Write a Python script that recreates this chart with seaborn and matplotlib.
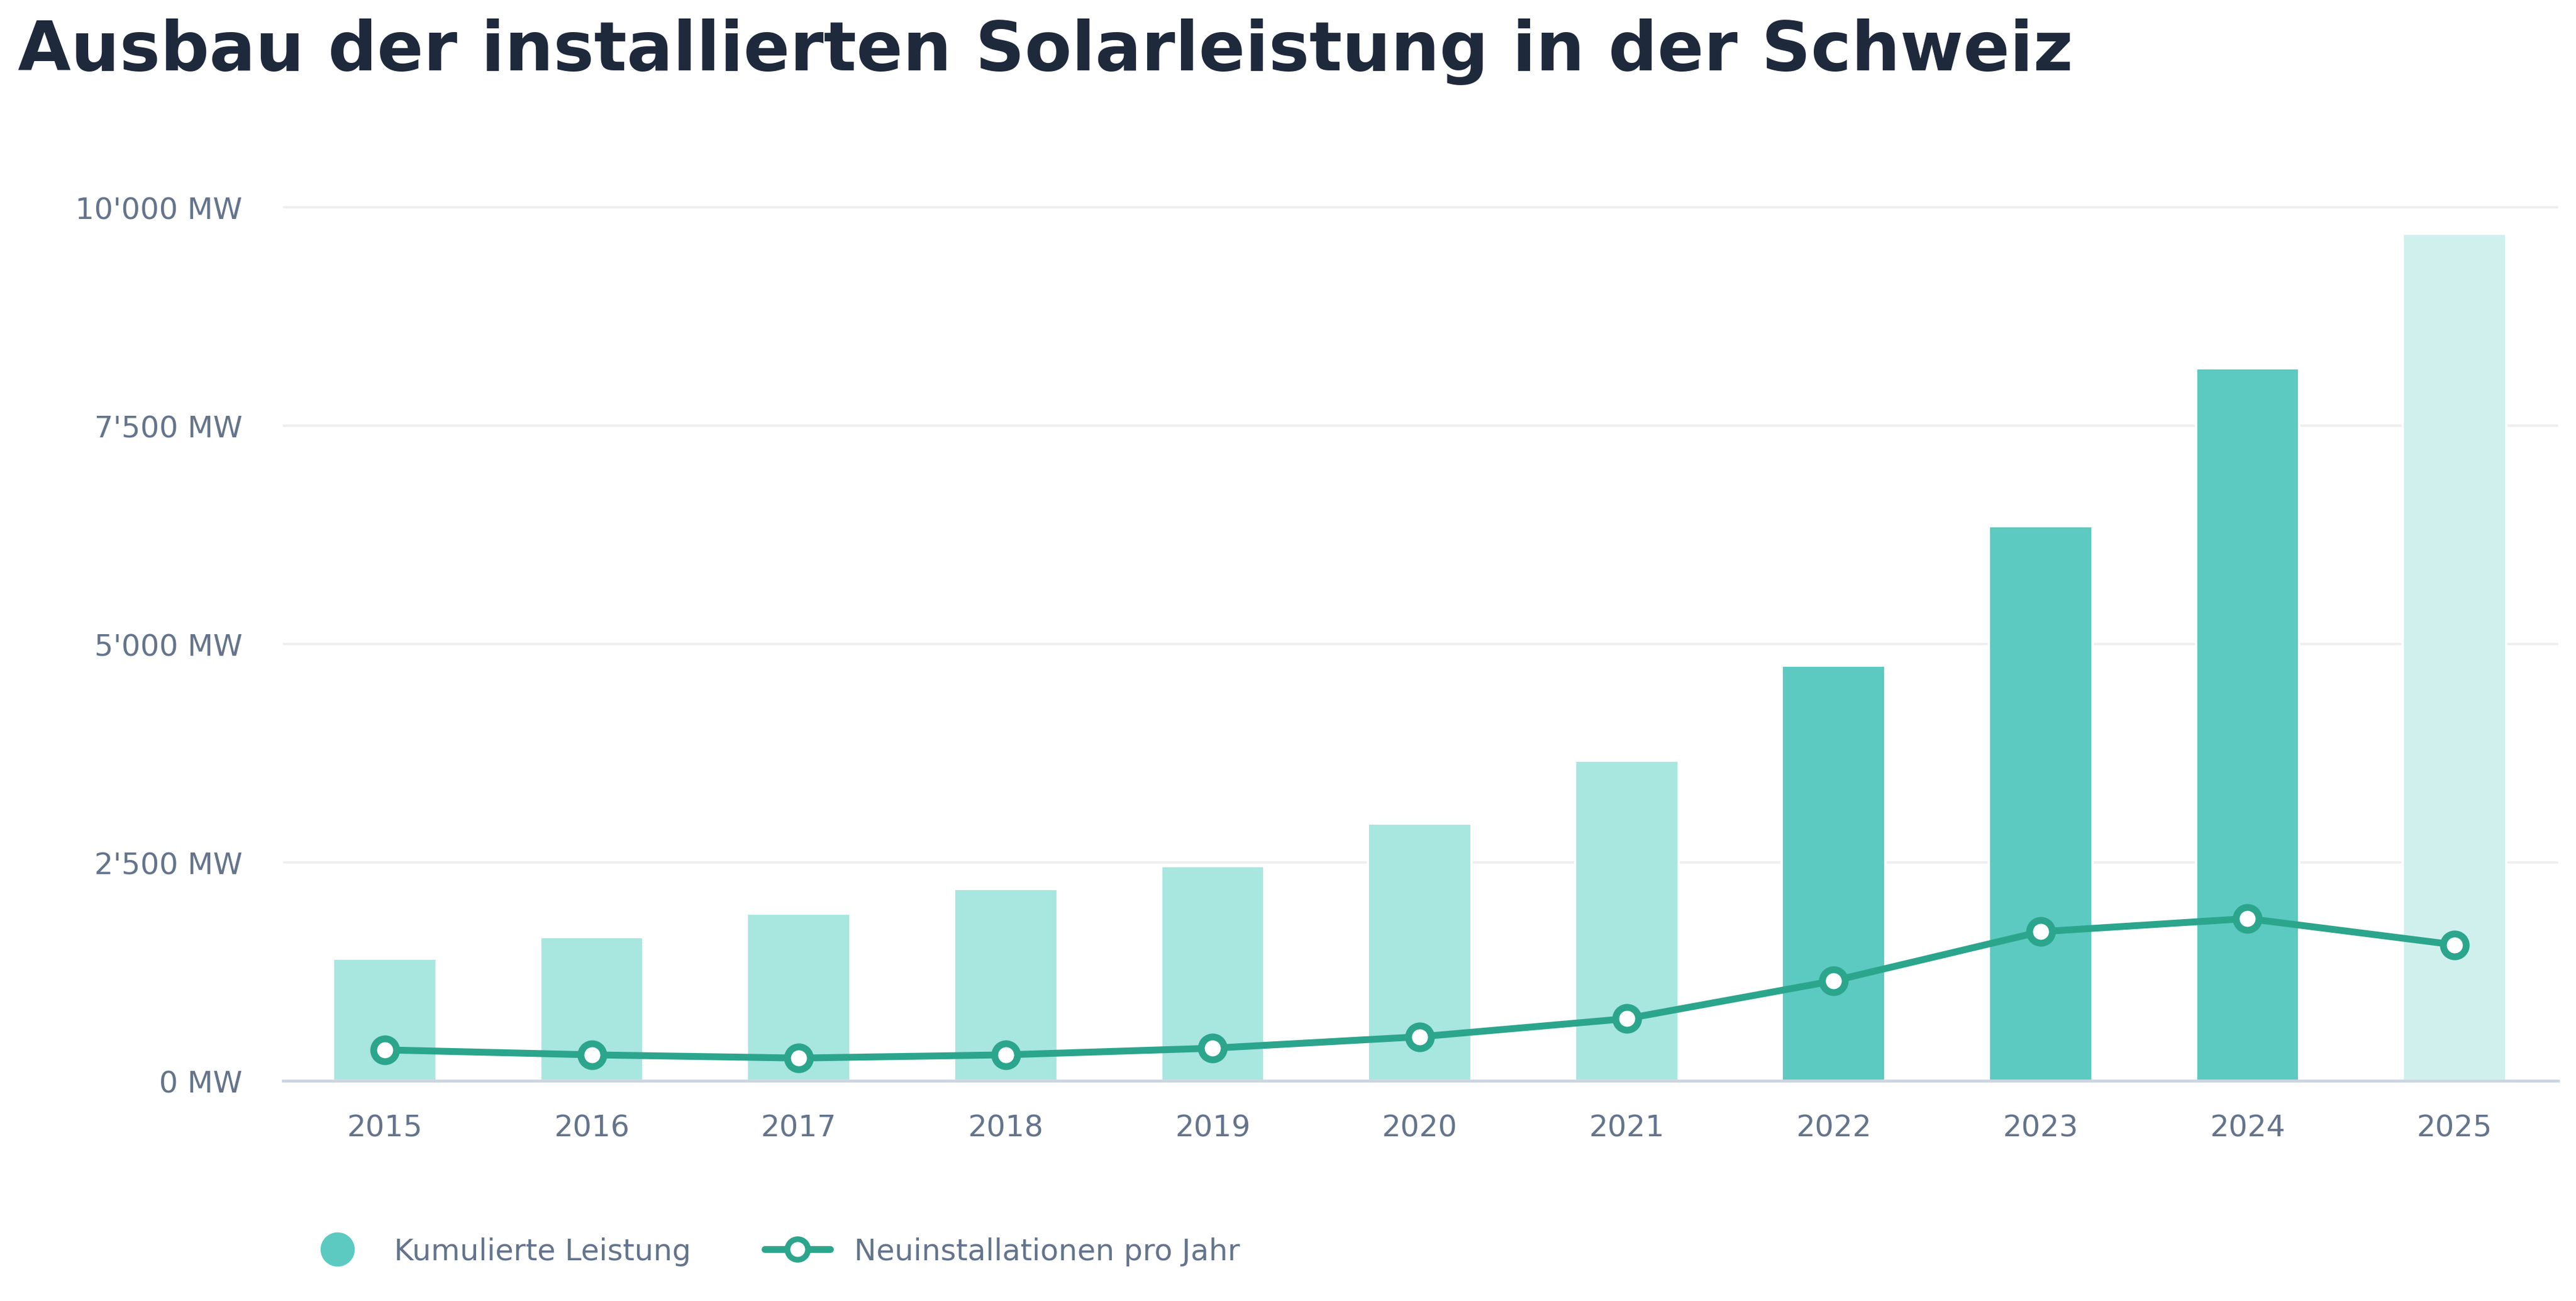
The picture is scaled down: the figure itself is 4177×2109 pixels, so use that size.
import numpy as np
import pandas as pd
import seaborn as sns
import matplotlib.pyplot as plt
from matplotlib.lines import Line2D

# Daten (MW)
years = ["2015", "2016", "2017", "2018", "2019", "2020", "2021", "2022", "2023", "2024", "2025"]
kumuliert = [1400, 1650, 1920, 2200, 2460, 2950, 3665, 4755, 6350, 8160, 9700]
neu = [357, 300, 263, 300, 376, 507, 714, 1147, 1710, 1860, 1560]
bar_colors = ["#a8e6e0"] * 7 + ["#5ccac0"] * 3 + ["#d0f0ee"]

LINE = "#2ca58d"
TICK = "#64748b"

sns.set_theme(style="white")
plt.rcParams['font.family'] = ['DejaVu Sans']

df = pd.DataFrame({"Jahr": years, "Kumuliert": kumuliert, "Neu": neu})

fig = plt.figure(figsize=(15.68, 7.92), dpi=266.4)
ax = fig.add_axes([0.110, 0.169, 0.883, 0.698])

sns.barplot(data=df, x="Jahr", y="Kumuliert", hue="Jahr", palette=bar_colors,
            legend=False, width=0.5, saturation=1, ax=ax)
sns.lineplot(x=np.arange(len(years)), y=df["Neu"], ax=ax, color=LINE, lw=3,
             marker="o", markersize=10, markerfacecolor="white",
             markeredgecolor=LINE, markeredgewidth=3, zorder=5)

ax.set_xlim(-0.49, 10.5)
ax.set_ylim(0, 10400)
ticks = [0, 2500, 5000, 7500, 10000]
ax.set_yticks(ticks)
ax.set_yticklabels([f"{v:,.0f}".replace(",", "'") + " MW" for v in ticks])
ax.yaxis.grid(True, color="#eeeeee", lw=1)
ax.set_axisbelow(True)
for s in ["top", "right", "left"]:
    ax.spines[s].set_visible(False)
ax.spines["bottom"].set_color("#cbd5e1")
ax.tick_params(axis="both", colors=TICK, labelsize=13, length=0)
ax.tick_params(axis="x", pad=14)
ax.tick_params(axis="y", pad=18)
ax.set_xlabel("")
ax.set_ylabel("")

fig.text(0.007, 0.96, "Ausbau der installierten Solarleistung in der Schweiz",
         fontsize=30, fontweight="bold", color="#1e293b", va="center")

handles = [
    Line2D([], [], ls="none", marker="o", markersize=14, color="#5ccac0"),
    Line2D([], [], color=LINE, lw=3, marker="o", markersize=9,
           markerfacecolor="white", markeredgecolor=LINE, markeredgewidth=2.5),
]
fig.legend(handles, ["Kumulierte Leistung", "Neuinstallationen pro Jahr"],
           loc="center left", bbox_to_anchor=(0.108, 0.038), ncol=2, frameon=False,
           fontsize=13, labelcolor=TICK, columnspacing=2.5, handlelength=2.2)

fig.savefig("out.png", dpi=266.4)
